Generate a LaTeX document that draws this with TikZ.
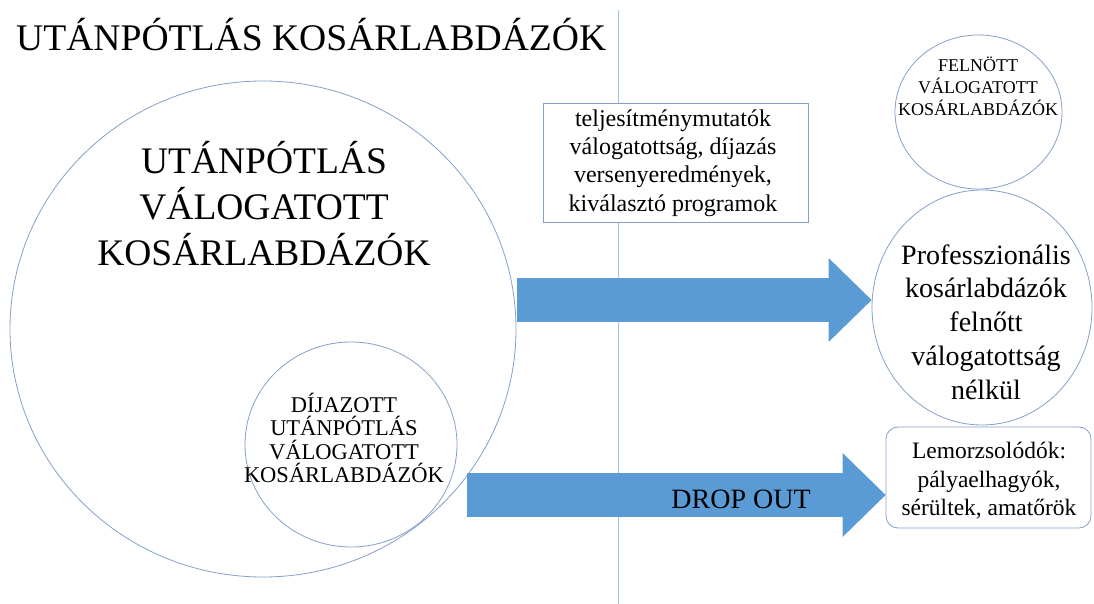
\documentclass[tikz,border=0pt]{standalone}
\usepackage{fontspec}
\setmainfont{Liberation Serif}
\usetikzlibrary{arrows.meta, shapes.geometric, positioning}

\definecolor{nyilkek}{RGB}{91,155,213}
\definecolor{korvonal}{RGB}{132,160,200}
\definecolor{valaszto}{RGB}{157,195,230}

\tikzset{
  kor/.style={ellipse, draw=korvonal, line width=0.8pt, inner sep=0pt},
  doboz/.style={rectangle, draw=korvonal, line width=0.8pt, fill=white, inner sep=0pt},
  felirat/.style={align=center, inner sep=0pt},
  tomb/.style={draw=nyilkek, line width=44pt,
    -{Triangle[length=43pt, width=84pt, line width=0pt]}},
}

\begin{document}
\begin{tikzpicture}[x=1pt, y=-1pt]
\useasboundingbox (0,0) rectangle (1094,604);

% valaszto vonal
\draw[valaszto, line width=0.9pt] (618,10) -- (618,604);

\node[anchor=base west, inner sep=0pt, font=\fontsize{37.6}{45}\selectfont] (cim) at (16,51) {UTÁNPÓTLÁS KOSÁRLABDÁZÓK};

% korok
\node[kor, minimum width=506pt, minimum height=496pt] (vuk) at (263,329) {};
\node[felirat, font=\fontsize{37.5}{46}\selectfont] (vuktext) at (264,204) {UTÁNPÓTLÁS\\VÁLOGATOTT\\KOSÁRLABDÁZÓK};

\node[kor, minimum width=212pt, minimum height=205pt] (dijazott) at (351,444.5) {};
\node[felirat, font=\fontsize{22.5}{23.5}\selectfont] (dijtext) at (344,438) {DÍJAZOTT\\UTÁNPÓTLÁS\\VÁLOGATOTT\\KOSÁRLABDÁZÓK};

\node[kor, minimum width=167pt, minimum height=154pt] (felnott) at (978.5,112) {};
\node[felirat, font=\fontsize{18}{22}\selectfont] (feltext) at (978,86.5) {FELNÖTT\\VÁLOGATOTT\\KOSÁRLABDÁZÓK};

\node[kor, minimum width=220pt, minimum height=235pt] (prof) at (982,307.5) {};
\node[felirat, font=\fontsize{28}{33.75}\selectfont] (proftext) at (986,322) {Professzionális\\kosárlabdázók\\felnőtt\\válogatottság\\nélkül};

% dobozok
\node[doboz, minimum width=265pt, minimum height=119pt] (mutatok) at (675.5,162.5) {};
\node[felirat, font=\fontsize{24}{28.3}\selectfont] (mutext) at (673,163) {teljesítménymutatók\\válogatottság, díjazás\\versenyeredmények,\\kiválasztó programok};

\node[doboz, rounded corners=12pt, minimum width=205pt, minimum height=101pt] (lemorzs) at (988.5,477.5) {};
\node[felirat, font=\fontsize{23.5}{28.5}\selectfont] (lemtext) at (989,481) {Lemorzsolódók:\\pályaelhagyók,\\sérültek, amatőrök};

% nyilak
\coordinate (felso) at (517,300);
\coordinate (also) at (467,495);
\draw[tomb] (felso) -- (felso -| prof.west);
\draw[tomb] (also) -- (also -| lemorzs.west);

\node[inner sep=0pt, font=\fontsize{28}{33}\selectfont] (dropout) at (741,499) {DROP OUT};

\end{tikzpicture}
\end{document}
